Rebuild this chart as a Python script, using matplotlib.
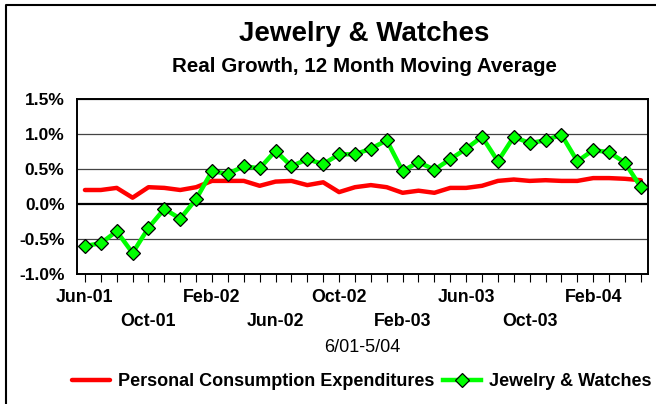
import matplotlib
matplotlib.use("Agg")
import matplotlib.pyplot as plt
from matplotlib.lines import Line2D
import numpy as np

plt.rcParams['font.family'] = ['Liberation Sans', 'DejaVu Sans']

# ── Data (monthly, 6/01 - 5/04) ──────────────────────────────────────────────
months = ["Jun-01", "Jul-01", "Aug-01", "Sep-01", "Oct-01", "Nov-01", "Dec-01",
          "Jan-02", "Feb-02", "Mar-02", "Apr-02", "May-02", "Jun-02", "Jul-02",
          "Aug-02", "Sep-02", "Oct-02", "Nov-02", "Dec-02", "Jan-03", "Feb-03",
          "Mar-03", "Apr-03", "May-03", "Jun-03", "Jul-03", "Aug-03", "Sep-03",
          "Oct-03", "Nov-03", "Dec-03", "Jan-04", "Feb-04", "Mar-04", "Apr-04",
          "May-04"]
pce = [0.20, 0.20, 0.23, 0.09, 0.24, 0.23, 0.20, 0.24, 0.33, 0.33, 0.33, 0.26,
       0.32, 0.33, 0.27, 0.31, 0.17, 0.24, 0.27, 0.24, 0.16, 0.19, 0.16, 0.23,
       0.23, 0.26, 0.33, 0.35, 0.33, 0.34, 0.33, 0.33, 0.37, 0.37, 0.36, 0.34]
jewelry = [-0.60, -0.56, -0.39, -0.70, -0.34, -0.07, -0.21, 0.07, 0.47, 0.43,
           0.54, 0.51, 0.76, 0.54, 0.64, 0.57, 0.71, 0.71, 0.79, 0.91, 0.47,
           0.60, 0.49, 0.64, 0.79, 0.96, 0.61, 0.96, 0.87, 0.91, 0.99, 0.61,
           0.77, 0.74, 0.59, 0.24]
yticks = [-1.0, -0.5, 0.0, 0.5, 1.0, 1.5]

x = np.arange(len(months))

# ── Figure ───────────────────────────────────────────────────────────────────
fig = plt.figure(figsize=(6.56, 4.04), dpi=100)
ax = fig.add_axes([77 / 656, 1 - 274 / 404, (648 - 77) / 656, (274 - 99) / 404])

for v in yticks:
    ax.axhline(v, color="#444444" if v != 0 else "black",
               lw=0.9 if v != 0 else 1.6, zorder=1)

ax.plot(x, pce, color="#ff0000", lw=3.2, solid_capstyle="round",
        label="Personal Consumption Expenditures", zorder=3)
ax.plot(x, jewelry, color="#00ff00", lw=3.2, marker="D", markersize=7.5,
        markerfacecolor="#00ff00", markeredgecolor="black", markeredgewidth=0.9,
        label="Jewelry & Watches", zorder=4)

ax.set_xlim(-0.5, len(months) - 0.55)
ax.set_ylim(-1.0, 1.5)
ax.set_yticks(yticks)
ax.set_yticklabels([f"{v:.1f}%" for v in yticks], fontsize=12.5, fontweight="bold")

# alternate month labels on two rows, every 4 months
xlabels = []
for i, m in enumerate(months):
    if i % 8 == 0:
        xlabels.append(m)
    elif i % 8 == 4:
        xlabels.append("\n" + m)
    else:
        xlabels.append("")
ax.set_xticks(x)
ax.set_xticklabels(xlabels, fontsize=12.8, fontweight="bold", linespacing=1.5)
ax.tick_params(axis="x", direction="out", length=6, width=0.8, pad=5)
ax.tick_params(axis="y", length=0, pad=9)

for s in ax.spines.values():
    s.set_linewidth(1.4)
    s.set_color("black")

# ── Titles / texts ───────────────────────────────────────────────────────────
fig.text(364 / 656, 1 - 34 / 404, "Jewelry & Watches", ha="center", va="center",
         fontsize=20, fontweight="bold")
fig.text(364 / 656, 1 - 66 / 404, "Real Growth, 12 Month Moving Average",
         ha="center", va="center", fontsize=14.8, fontweight="bold")
fig.text(362 / 656, 1 - 348 / 404, "6/01-5/04", ha="center", va="center",
         fontsize=13)

fig.legend(loc="center", bbox_to_anchor=(362 / 656, 1 - 382 / 404), ncol=2,
           frameon=False, prop={"size": 13, "weight": "bold"},
           handlelength=2.1, columnspacing=0.5, handletextpad=0.45)

# outer frame (left and top edges)
fig.add_artist(Line2D([6 / 656, 6 / 656, 1.0], [0.0, 1 - 5 / 404, 1 - 5 / 404],
                      transform=fig.transFigure, color="black", lw=1.5))

fig.savefig("out.png", dpi=100, facecolor="white")
